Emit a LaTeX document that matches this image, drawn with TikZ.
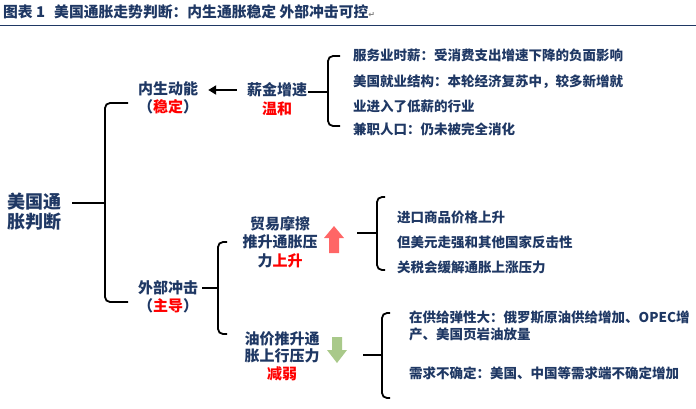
\documentclass[tikz,border=0pt]{standalone}
\usepackage{fontspec}
\setmainfont{Noto Sans CJK SC}
\newfontfamily\symfont{DejaVu Sans}
\usetikzlibrary{arrows.meta}
\definecolor{navy}{HTML}{1F3864}
\definecolor{tred}{HTML}{FF0000}
\definecolor{upred}{HTML}{FF6666}
\definecolor{downgreen}{HTML}{A9C98A}
\begin{document}
\begin{tikzpicture}[x=1pt,y=-1pt,
  mainlbl/.style={font=\fontsize{18}{20}\selectfont\bfseries, text=navy, align=center, inner sep=0pt},
  midlbl/.style={font=\fontsize{15}{18.5}\selectfont\bfseries, text=navy, align=center, inner sep=0pt},
  itemlbl/.style={font=\fontsize{13.5}{17}\selectfont\bfseries, text=navy, anchor=west, inner sep=0pt},
  brace/.style={line width=1.8pt, rounded corners=5pt},
  stub/.style={line width=1.8pt},
]
\path[use as bounding box] (0,0) rectangle (696,408);
% title
\node[anchor=west, inner sep=0pt, font=\fontsize{14.8}{16}\selectfont\bfseries, text=navy] (title) at (3,12)
  {图表 1\hspace{9pt}美国通胀走势判断：内生通胀稳定 外部冲击可控{\color{gray}\fontsize{8}{8}\selectfont\symfont ↵}};
\draw[navy, line width=1.4pt] (0,25.5) -- (696,25.5);

% root
\node[mainlbl] (root) at (35,212) {美国通\\胀判断};
% level 1
\node[midlbl] (inner) at (168,98) {内生动能\\（{\color{tred}稳定}）};
\node[midlbl] (outer) at (168,297) {外部冲击\\（{\color{tred}主导}）};
% root brace
\coordinate (bigM) at (105,203);
\coordinate (bigT) at (128,103);
\coordinate (bigB) at (128,302);
\draw[stub] ([shift={(10,-9)}]root.east) -- (bigM);
\draw[brace] (bigT) -- (105,103) -- (105,302) -- (bigB);

% wage
\node[midlbl] (wage) at (277,99) {薪金增速\\{\color{tred}温和}};
\draw[line width=2pt, -{Triangle[length=8pt,width=9pt]}] ([shift={(-10,-9)}]wage.west) -- ([shift={(10,-8)}]inner.east);
\coordinate (wM) at (328,92);
\draw[stub] ([shift={(1,-7)}]wage.east) -- (wM);
\draw[brace] (340,56) -- (328,56) -- (328,126) -- (340,126);
\node[itemlbl] (w1) at (353,55) {服务业时薪：受消费支出增速下降的负面影响};
\node[itemlbl] (w2) at (353,82) {美国就业结构：本轮经济复苏中，较多新增就};
\node[itemlbl] (w3) at (353,106) {业进入了低薪的行业};
\node[itemlbl] (w4) at (353,129) {兼职人口：仍未被完全消化};

% outer brace
\coordinate (oM) at (218,288);
\draw[stub] ([shift={(4,-9)}]outer.east) -- (oM);
\draw[brace] (227,242) -- (218,242) -- (218,334) -- (227,334);

% trade
\node[midlbl] (trade) at (280,242) {贸易摩擦\\推升通胀压\\力{\color{tred}上升}};
\fill[upred] (329,253) -- (329,238) -- (324,238) -- (334,226) -- (344,238) -- (339,238) -- (339,253) -- cycle;
\coordinate (tM) at (377,233);
\draw[stub] (357,233) -- (tM);
\draw[brace] (385,197) -- (377,197) -- (377,270) -- (385,270);
\node[itemlbl] (t1) at (397,217) {进口商品价格上升};
\node[itemlbl] (t2) at (397,242) {但美元走强和其他国家反击性};
\node[itemlbl] (t3) at (397,267) {关税会缓解通胀上涨压力};

% oil
\node[midlbl, font=\fontsize{15}{17.5}\selectfont\bfseries] (oil) at (282,356) {油价推升通\\胀上行压力\\{\color{tred}减弱}};
\fill[downgreen] (332,337) -- (342,337) -- (342,350) -- (347,350) -- (337,363) -- (327,350) -- (332,350) -- cycle;
\coordinate (oilM) at (382,355);
\draw[stub] (363,355) -- (oilM);
\draw[brace] (390,313) -- (382,313) -- (382,398) -- (390,398);
\node[itemlbl] (o1) at (409,317) {在供给弹性大：俄罗斯原油供给增加、OPEC增};
\node[itemlbl] (o2) at (409,334) {产、美国页岩油放量};
\node[itemlbl] (o3) at (409,373) {需求不确定：美国、中国等需求端不确定增加};
\end{tikzpicture}
\end{document}
